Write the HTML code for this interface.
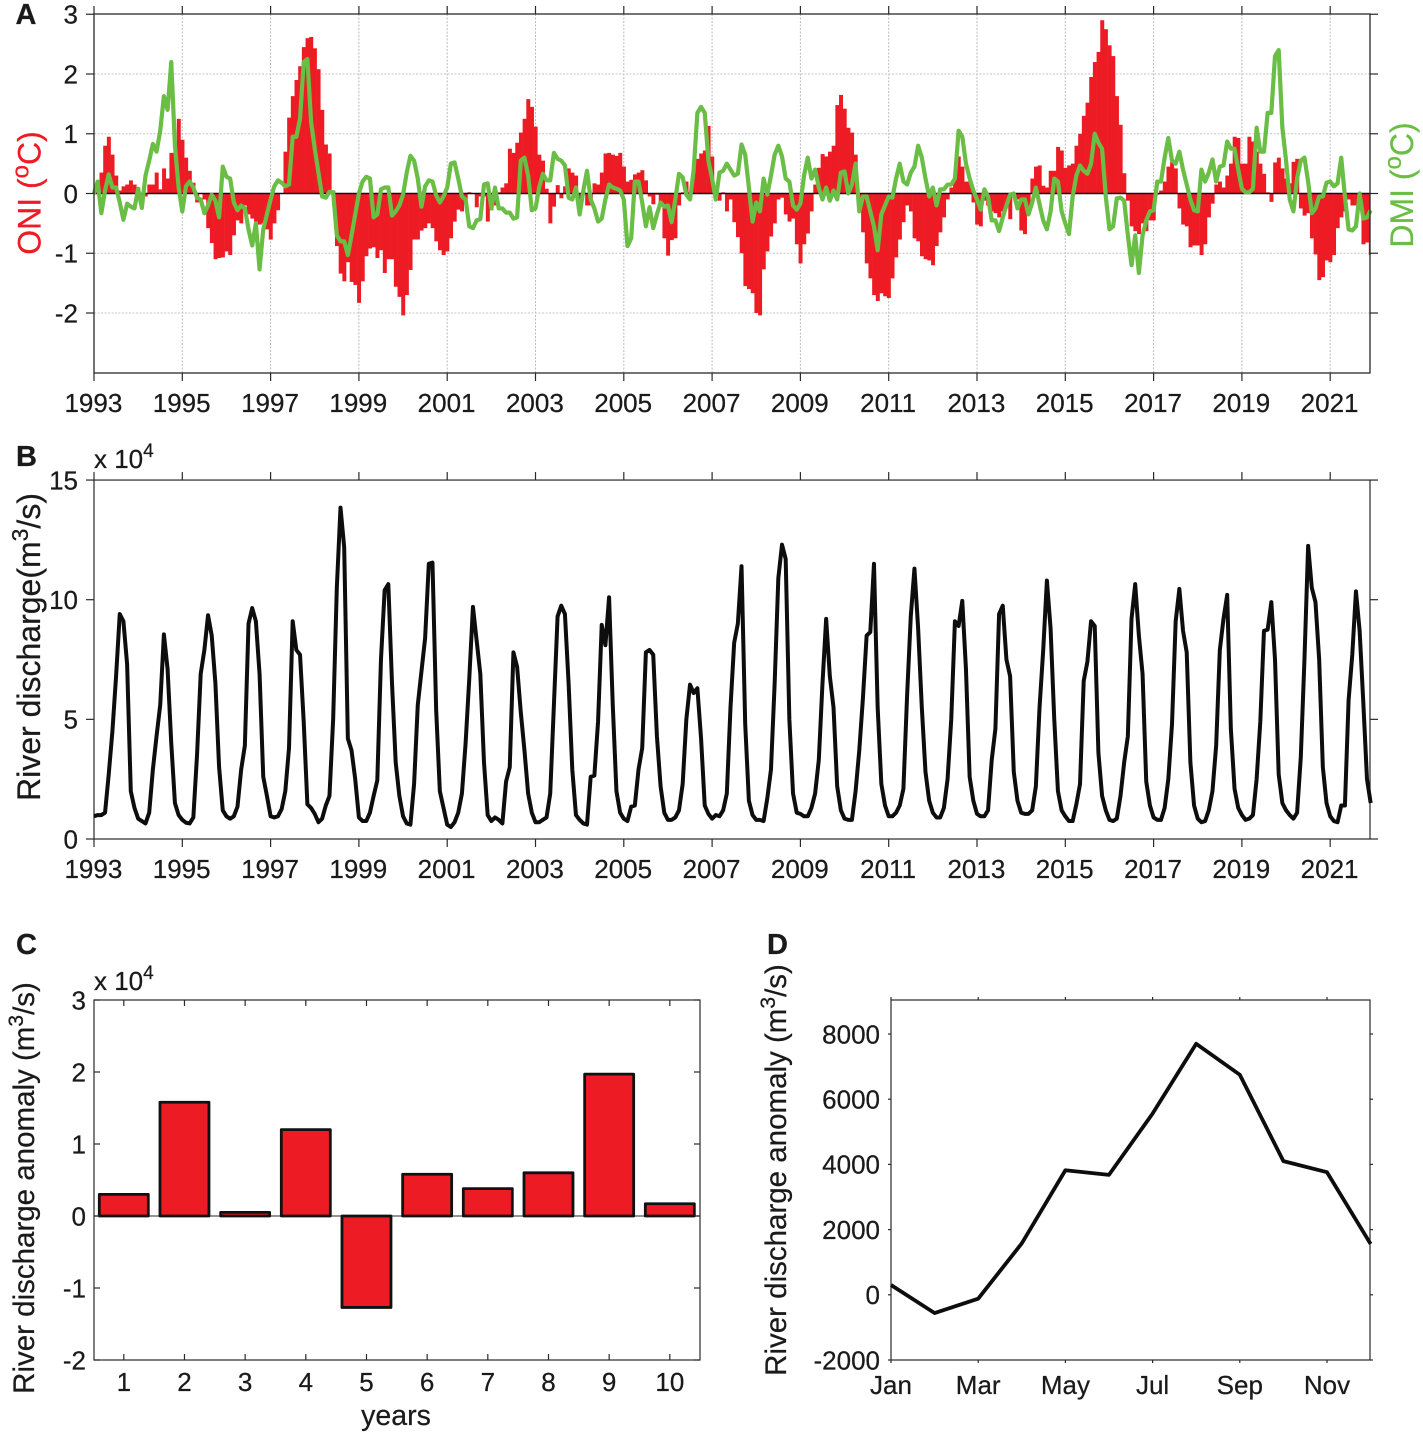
<!DOCTYPE html>
<html lang="en">
<head>
<meta charset="utf-8">
<title>ONI, DMI and river discharge</title>
<style>
html,body{margin:0;padding:0;background:#fff;}
svg{display:block;}
text{font-family:"Liberation Sans",Arial,sans-serif;fill:#1a1a1a;stroke:#1a1a1a;stroke-width:.25px;}
</style>
</head>
<body>
<svg id="figure" xmlns="http://www.w3.org/2000/svg" width="1423" height="1437" viewBox="0 0 1423 1437">
  <defs>
    <clipPath id="plotClipA"><rect x="94" y="14" width="1276" height="359"/></clipPath>
  </defs>
  <rect x="0" y="0" width="1423" height="1437" fill="#fff"/>
  <g id="panelA"></g>
  <g id="panelB"></g>
  <g id="panelC"></g>
  <g id="panelD"></g>

  <text x="15.5" y="24" font-size="29" font-weight="bold" fill="#111">A</text>
  <text x="16" y="466" font-size="29" font-weight="bold" fill="#111">B</text>
  <text x="16" y="954" font-size="29" font-weight="bold" fill="#111">C</text>
  <text x="767" y="954" font-size="29" font-weight="bold" fill="#111">D</text>

  <text transform="translate(40.5,193) rotate(-90)" text-anchor="middle" font-size="32" style="fill:#ed1c24;stroke:#ed1c24">ONI (<tspan font-size="24" dy="-12">o</tspan><tspan dy="12">C)</tspan></text>
  <text transform="translate(1413,185) rotate(-90)" text-anchor="middle" font-size="32" style="fill:#6abd45;stroke:#6abd45">DMI (<tspan font-size="24" dy="-12">o</tspan><tspan dy="12">C)</tspan></text>
  <text transform="translate(40,647) rotate(-90)" text-anchor="middle" font-size="32">River discharge(m<tspan font-size="23" dy="-12">3</tspan><tspan dy="12">/s)</tspan></text>
  <text transform="translate(34,1188) rotate(-90)" text-anchor="middle" font-size="29.5">River discharge anomaly (m<tspan font-size="21" dy="-11">3</tspan><tspan dy="11">/s)</tspan></text>
  <text transform="translate(786,1170) rotate(-90)" text-anchor="middle" font-size="29.5">River discharge anomaly (m<tspan font-size="21" dy="-11">3</tspan><tspan dy="11">/s)</tspan></text>
  <text x="396" y="1425" text-anchor="middle" font-size="28.5">years</text>

  <text x="94" y="468" font-size="26">x 10<tspan font-size="19" dy="-11">4</tspan></text>
  <text x="94" y="990" font-size="26">x 10<tspan font-size="19" dy="-11">4</tspan></text>
</svg>

<script>
// ---------- Panel A data ----------
const yearTicks = [1993,1995,1997,1999,2001,2003,2005,2007,2009,2011,2013,2015,2017,2019,2021];
const oniTicks = [3,2,1,0,-1,-2];
const oniValues = [
.1,.15,.35,.8,.95,.65,.3,.05,.12,.15,.22,.15,
.1,0,-.05,.15,.15,.35,.07,.42,.25,.68,.68,1.25,
.9,.6,.38,.18,-.15,0,-.1,-.58,-.83,-1.1,-1.08,-1.07,
-.97,-1.03,-.7,-.45,-.5,-.2,-.35,-.42,-.47,-.52,-.5,-.6,
-.77,-.5,-.28,0,.7,1.27,1.63,1.9,2.13,2.45,2.6,2.62,
2.43,2.08,1.4,.82,.67,.05,-.88,-1.34,-1.47,-1.15,-1.48,-1.53,
-1.83,-1.47,-1.05,-.92,-.9,-1.08,-.95,-1.33,-1.1,-1.1,-1.56,-1.73,
-2.04,-1.7,-1.28,-.77,-.77,-.62,-.58,-.5,-.58,-.8,-.95,-1.03,
-.97,-.75,-.47,-.27,-.3,-.1,.02,0,-.23,-.05,-.05,-.47,
-.28,-.2,.02,.1,.17,.75,.68,.85,1.02,1.25,1.58,1.45,
1.12,.65,.55,.08,-.5,-.22,.14,-.08,.12,.42,.35,.3,
-.1,.05,-.2,-.2,.17,.15,.35,.67,.68,.65,.63,.68,
.45,.2,.23,.32,.35,.39,.22,-.05,-.18,-.02,-.15,-.75,
-1.04,-.78,-.75,-.2,.02,.2,.02,.35,.58,.67,.72,1.13,
.62,-.1,-.12,.02,-.3,-.1,-.48,-.73,-1,-1.55,-1.6,-1.67,
-2,-2.04,-1.27,-.97,-.72,-.5,-.1,-.07,-.35,-.47,-.42,-.85,
-1.17,-.85,-.67,-.3,.15,.43,.66,.62,.7,.8,1.48,1.65,
1.42,1.1,1.02,.65,-.1,-.65,-1.17,-1.42,-1.7,-1.8,-1.67,-1.72,
-1.75,-1.42,-1.07,-.77,-.48,-.2,-.3,-.75,-.8,-1.05,-1.1,-1.12,
-1.2,-.88,-.65,-.4,-.1,.1,.28,.62,.45,.2,.2,-.15,
-.52,-.55,-.12,-.2,-.3,-.33,-.4,-.3,-.2,-.43,-.05,-.1,
-.62,-.68,-.25,.25,.45,.47,.13,.1,.38,.38,.78,.72,
.43,.47,.5,.8,1,1.3,1.52,1.95,2.2,2.37,2.9,2.75,
2.48,2.3,1.63,1.15,.34,-.12,-.55,-.63,-.68,-.5,-.63,-.45,
-.45,-.02,.05,.2,.45,.53,.42,-.25,-.52,-.55,-.9,-.87,
-.87,-1.03,-.85,-.4,-.17,.15,.2,.1,.3,.5,.95,.93,
.5,.5,.95,.87,.7,.5,.33,.02,-.14,.52,.6,.42,
.25,.17,.53,.58,-.25,-.37,-.33,-.75,-1.02,-1.45,-1.4,-1.12,
-1.15,-1.03,-.58,-.4,-.3,-.1,-.2,-.2,-.05,-.85,-.82,-1.03
];
const dmiValues = [
0,.2,-.33,.05,.32,.1,.1,-.15,-.44,-.17,-.22,-.25,
.08,-.24,.3,.55,.83,.7,1.05,1.63,1.4,2.2,.8,.1,
-.3,.12,.2,.1,-.07,-.1,-.33,-.2,-.02,-.12,-.4,.45,
.28,.25,-.15,-.28,-.2,-.25,-.6,-.87,-.5,-1.27,-.6,-.35,
-.1,.12,.22,.18,.12,.15,.95,.95,1.25,2.2,2.25,1.2,
.75,.35,-.05,-.07,.03,.02,-.7,-.8,-.8,-1.03,-.7,-.35,
0,.2,.28,.25,-.4,-.35,.07,.1,.1,-.37,-.3,-.2,
-.02,.35,.63,.55,.25,-.22,.12,.22,.2,-.03,-.15,-.05,
.1,.5,.52,.25,-.05,-.1,-.55,-.58,-.45,-.43,.15,.17,
-.25,.1,-.25,-.25,-.32,-.32,-.42,-.4,.55,.6,.3,-.28,
-.25,.1,.33,.22,.22,.68,.58,.55,.47,-.07,-.1,.1,
-.35,.05,.38,-.1,-.25,-.47,-.42,-.1,.15,.1,.08,.05,
-.1,-.88,-.75,.2,.2,-.15,-.55,-.23,-.58,-.35,-.15,-.22,
-.2,-.48,-.1,.33,.27,-.02,-.1,.4,1.35,1.45,1.35,.55,
.25,-.1,.35,.38,.5,.4,.3,.33,.82,.65,.1,-.47,
-.15,-.3,.25,-.02,.3,.65,.8,.62,.25,.2,-.2,-.27,
-.17,.3,.6,.25,.4,.1,-.1,.1,-.12,.05,-.1,.35,
.37,0,.15,.5,-.3,-.05,-.05,-.3,-.55,-.95,-.35,-.2,
-.05,-.07,.25,.5,.2,.15,.35,.45,.8,.6,.25,-.05,
.1,-.2,.07,.07,.15,.15,.25,1.05,.95,.5,.25,.05,
-.1,-.27,.07,-.05,-.45,-.45,-.63,-.4,-.2,-.02,0,-.25,
-.1,-.1,-.35,-.15,.1,-.18,-.45,-.6,-.3,.25,.2,-.3,
-.5,-.68,-.05,.3,.47,.38,.33,.5,1,.85,.75,-.05,
-.6,-.55,-.08,-.07,-.12,-.7,-1.2,-.7,-1.33,-.7,-.45,-.3,
-.28,.2,.2,.6,.93,.55,.5,.7,.4,.15,-.1,-.28,
-.3,.4,.2,.35,.57,.2,.45,.47,.87,.75,.75,.4,
.08,.02,.02,.08,1.1,.7,.7,1.35,1.35,2.3,2.4,1.1,
.55,-.1,-.3,.25,.55,.6,.2,-.33,-.25,-.05,-.05,.18,
.2,.12,.17,.6,-.05,-.6,-.62,-.55,0,-.42,-.4,-.28
];
// ---------- Panel B data (x 10^4 m3/s) ----------
const dischargeTicks = [15,10,5,0];
const dischargeValues = [
.95,1,1,1.1,2.7,4.5,6.8,9.4,9.1,7.3,2,1.3,
.85,.75,.65,1.1,2.9,4.3,5.6,8.55,7.1,4,1.5,1,
.8,.68,.65,.9,3.5,6.9,7.9,9.35,8.5,6.5,3,1.2,
.95,.85,.95,1.35,2.9,3.9,9,9.65,9.1,6.9,2.6,1.8,
.95,.9,.95,1.25,2,3.8,9.1,7.9,7.7,4.9,1.45,1.3,
1.05,.7,.85,1.4,1.8,5,10.5,13.85,12.2,4.2,3.7,2.5,
.9,.75,.75,1.1,1.8,2.45,7.5,10.4,10.65,6.5,3.2,1.8,
.95,.65,.6,2.3,5.6,7,8.4,11.5,11.55,5.4,2,1.3,
.6,.5,.7,1.1,1.9,4,6.7,9.7,8.3,6.9,3.2,1,
.75,.9,.8,.65,2.4,3,7.8,7.2,5.3,3.7,1.9,1.1,
.7,.7,.8,.9,1.9,5.6,9.3,9.75,9.4,6.5,2.9,1,
.8,.65,.6,2.6,2.65,4.9,8.95,8.1,10.1,5.6,2,1.1,
.85,.75,1.35,1.4,2.9,3.8,7.8,7.9,7.7,4.3,2.2,1.1,
.8,.8,.9,1.2,2.3,5,6.45,6.1,6.3,4.2,1.4,1.05,
.85,1,.95,1.2,1.9,5.5,8.2,9,11.4,4.8,1.6,1,
.8,.8,.75,1.7,2.9,6.5,10.9,12.3,11.7,5,1.9,1.1,
1.05,.95,.95,1.3,1.9,3.3,6.5,9.2,6.8,5.5,2.2,1.2,
.85,.8,.8,2,3.7,5.9,8.5,8.65,11.5,5.5,2.3,1.4,
.95,.95,1.1,1.4,2.1,6,9.3,11.3,8.8,5.5,2.8,1.6,
1.1,.9,.9,1.3,2.5,5,9.1,8.9,9.95,7.1,2.6,1.6,
1.05,.95,.95,1.2,3.3,4.6,9.4,9.75,7.5,6.8,2.8,1.6,
1.1,1.05,1.05,1.2,2.2,5.5,7.9,10.8,8.8,5,2,1.2,
.95,.75,.75,1.45,2.3,6.6,7.4,9.1,8.9,3.6,1.8,1.2,
.8,.75,.85,1.8,3.2,4.3,9.2,10.65,8.5,6.9,2.4,1.4,
.9,.8,.8,1.3,2.5,4.8,9.1,10.45,8.7,7.8,3.2,1.4,
.85,.7,.75,1.2,2,3.9,7.9,9.2,10.2,4.6,2.1,1.3,
1,.8,.85,1,2.5,4.9,8.7,8.75,9.9,7.5,2.7,1.5,
1.2,1,.85,1.1,3.4,7.5,12.25,10.5,9.9,7.5,3,1.5,
.95,.75,.7,1.4,1.4,5.8,7.7,10.35,8.7,5.7,2.5,1.5
];
// ---------- Panel C data (x 10^4 m3/s) ----------
const yearIndexTicks = ['1','2','3','4','5','6','7','8','9','10'];
const annualAnomalyTicks = [3,2,1,0,-1,-2];
const annualAnomalyValues = [0.3,1.58,0.05,1.2,-1.27,0.58,0.38,0.6,1.97,0.17];
// ---------- Panel D data (m3/s) ----------
const monthLabels = ['Jan','Mar','May','Jul','Sep','Nov'];
const monthlyAnomalyTicks = [8000,6000,4000,2000,0,-2000];
const monthlyAnomalyValues = [300,-560,-120,1580,3820,3680,5560,7700,6750,4100,3760,1560];

// ---------- Helpers ----------
const NS = 'http://www.w3.org/2000/svg';
function svgEl(tag, props, parent) {
  const el = document.createElementNS(NS, tag);
  for (const key in props) el.setAttribute(key, props[key]);
  parent.appendChild(el);
  return el;
}
function linePath(values, xf, yf) {
  return values.map((v, i) => (i ? 'L' : 'M') + xf(i).toFixed(2) + ' ' + yf(v).toFixed(2)).join(' ');
}

// ---------- Axis functions ----------
const LEFT = 94, RIGHT = 1370, PX_PER_YEAR = 44.15;
const xYear = y => LEFT + (y - 1993) * PX_PER_YEAR;
const xMonthIndex = i => LEFT + (i / 12) * PX_PER_YEAR;
const yOni = v => 193.5 - v * 59.75;
const yDischarge = v => 839 - v * 23.93;
const xCat = i => 123.8 + i * 60.67;
const yAnnual = v => 1216 - v * 72;
const xMonth = i => 891 + i * 43.6;
const yMonthly = v => 1294.8 - v * 0.0326;

const AXIS = '#2a2a2a';

// ---------- Panel A ----------
const panelA = document.getElementById('panelA');
yearTicks.forEach(y => {
  const grid = svgEl('line', {x1: xYear(y), x2: xYear(y), y1: 14, y2: 373, stroke: '#bbb', 'stroke-width': 1, 'stroke-dasharray': '2 1.5'}, panelA);
  
  
});
oniTicks.forEach(v => {
  if (v === 3) return;
  const grid = svgEl('line', {x1: LEFT, x2: RIGHT, y1: yOni(v), y2: yOni(v), stroke: '#c4c4c4', 'stroke-width': 1, 'stroke-dasharray': '2 1.5'}, panelA);
  
  
});
const oniBars = svgEl('g', {'clip-path': 'url(#plotClipA)'}, panelA);


oniValues.forEach((v, i) => {
  const top = Math.min(yOni(v), yOni(0));
  const bar = svgEl('rect', {x: xMonthIndex(i) - 1.84, y: top, width: 3.98, height: Math.abs(yOni(v) - yOni(0)), fill: '#ed1c24'}, oniBars);
  
  
});
const zeroA = svgEl('line', {x1: LEFT, x2: RIGHT, y1: yOni(0), y2: yOni(0), stroke: '#111', 'stroke-width': 1.4}, panelA);


const dmiLine = svgEl('path', {d: linePath(dmiValues, xMonthIndex, yOni), fill: 'none', stroke: '#6abd45', 'stroke-width': 4.2, 'stroke-linejoin': 'round'}, panelA);


const frameA = svgEl('rect', {x: LEFT, y: 14, width: RIGHT - LEFT, height: 359, fill: 'none', stroke: AXIS, 'stroke-width': 1.3}, panelA);


yearTicks.forEach(y => {
  const t1 = svgEl('line', {x1: xYear(y), x2: xYear(y), y1: 6, y2: 14, stroke: AXIS, 'stroke-width': 1.2}, panelA);
  
  
  const t2 = svgEl('line', {x1: xYear(y), x2: xYear(y), y1: 373, y2: 381, stroke: AXIS, 'stroke-width': 1.2}, panelA);
  
  
  const lab = svgEl('text', {x: xYear(y) - 0.6, y: 412, 'text-anchor': 'middle', 'font-size': 26}, panelA);
  lab.textContent = y;
  
  
});
oniTicks.forEach(v => {
  const t1 = svgEl('line', {x1: 86, x2: LEFT, y1: yOni(v), y2: yOni(v), stroke: AXIS, 'stroke-width': 1.2}, panelA);
  
  
  const t2 = svgEl('line', {x1: RIGHT, x2: 1378, y1: yOni(v), y2: yOni(v), stroke: AXIS, 'stroke-width': 1.2}, panelA);
  
  
  const lab = svgEl('text', {x: 78, y: yOni(v) + 9.3, 'text-anchor': 'end', 'font-size': 26}, panelA);
  lab.textContent = v;
  
  
});

// ---------- Panel B ----------
const panelB = document.getElementById('panelB');
const frameB = svgEl('rect', {x: LEFT, y: yDischarge(15), width: RIGHT - LEFT, height: yDischarge(0) - yDischarge(15), fill: 'none', stroke: AXIS, 'stroke-width': 1.2}, panelB);


const dischargeLine = svgEl('path', {d: linePath(dischargeValues, xMonthIndex, yDischarge), fill: 'none', stroke: '#0d0d0d', 'stroke-width': 4, 'stroke-linejoin': 'round'}, panelB);


yearTicks.forEach(y => {
  const t1 = svgEl('line', {x1: xYear(y), x2: xYear(y), y1: yDischarge(15) - 8, y2: yDischarge(15), stroke: AXIS, 'stroke-width': 1.2}, panelB);
  
  
  const t2 = svgEl('line', {x1: xYear(y), x2: xYear(y), y1: yDischarge(0), y2: yDischarge(0) + 8, stroke: AXIS, 'stroke-width': 1.2}, panelB);
  
  
  const lab = svgEl('text', {x: xYear(y) - 0.6, y: 878, 'text-anchor': 'middle', 'font-size': 26}, panelB);
  lab.textContent = y;
  
  
});
dischargeTicks.forEach(v => {
  const t1 = svgEl('line', {x1: 86, x2: LEFT, y1: yDischarge(v), y2: yDischarge(v), stroke: AXIS, 'stroke-width': 1.2}, panelB);
  
  
  const t2 = svgEl('line', {x1: RIGHT, x2: 1378, y1: yDischarge(v), y2: yDischarge(v), stroke: AXIS, 'stroke-width': 1.2}, panelB);
  
  
  const lab = svgEl('text', {x: 78, y: yDischarge(v) + 9.3, 'text-anchor': 'end', 'font-size': 26}, panelB);
  lab.textContent = v;
  
  
});

// ---------- Panel C ----------
const panelC = document.getElementById('panelC');
const zeroC = svgEl('line', {x1: LEFT, x2: 700, y1: yAnnual(0), y2: yAnnual(0), stroke: '#555', 'stroke-width': 1.2}, panelC);


annualAnomalyValues.forEach((v, i) => {
  const top = Math.min(yAnnual(v), yAnnual(0));
  const bar = svgEl('rect', {x: xCat(i) - 24.5, y: top, width: 49, height: Math.abs(yAnnual(v) - yAnnual(0)), fill: '#ed1c24', stroke: '#111', 'stroke-width': 2.8, 'stroke-linejoin': 'round'}, panelC);
  
  
});
const frameC = svgEl('rect', {x: LEFT, y: 1000, width: 606, height: 360, fill: 'none', stroke: AXIS, 'stroke-width': 1.2}, panelC);


yearIndexTicks.forEach((label, i) => {
  const t1 = svgEl('line', {x1: xCat(i), x2: xCat(i), y1: 1000, y2: 1006, stroke: AXIS, 'stroke-width': 1.2}, panelC);
  
  
  const t2 = svgEl('line', {x1: xCat(i), x2: xCat(i), y1: 1354, y2: 1360, stroke: AXIS, 'stroke-width': 1.2}, panelC);
  
  
  const lab = svgEl('text', {x: xCat(i), y: 1391, 'text-anchor': 'middle', 'font-size': 26}, panelC);
  lab.textContent = label;
  
  
});
annualAnomalyTicks.forEach(v => {
  const t1 = svgEl('line', {x1: LEFT, x2: LEFT + 6, y1: yAnnual(v), y2: yAnnual(v), stroke: AXIS, 'stroke-width': 1.2}, panelC);
  
  
  const t2 = svgEl('line', {x1: 694, x2: 700, y1: yAnnual(v), y2: yAnnual(v), stroke: AXIS, 'stroke-width': 1.2}, panelC);
  
  
  const lab = svgEl('text', {x: 86, y: yAnnual(v) + 9.3, 'text-anchor': 'end', 'font-size': 26}, panelC);
  lab.textContent = v;
  
  
});

// ---------- Panel D ----------
const panelD = document.getElementById('panelD');
const frameD = svgEl('rect', {x: 891, y: 1000, width: 479, height: 360, fill: 'none', stroke: AXIS, 'stroke-width': 1.2}, panelD);


const monthlyLine = svgEl('path', {d: linePath(monthlyAnomalyValues, xMonth, yMonthly), fill: 'none', stroke: '#0d0d0d', 'stroke-width': 3.8, 'stroke-linejoin': 'round'}, panelD);


monthLabels.forEach((label, i) => {
  const x = xMonth(i * 2);
  const t1 = svgEl('line', {x1: x, x2: x, y1: 997, y2: 1000, stroke: AXIS, 'stroke-width': 1.2}, panelD);
  
  
  const t2 = svgEl('line', {x1: x, x2: x, y1: 1360, y2: 1363, stroke: AXIS, 'stroke-width': 1.2}, panelD);
  
  
  const lab = svgEl('text', {x: x, y: 1394, 'text-anchor': 'middle', 'font-size': 26}, panelD);
  lab.textContent = label;
  
  
});
monthlyAnomalyTicks.forEach(v => {
  const t1 = svgEl('line', {x1: 888, x2: 891, y1: yMonthly(v), y2: yMonthly(v), stroke: AXIS, 'stroke-width': 1.2}, panelD);
  
  
  const t2 = svgEl('line', {x1: 1370, x2: 1373, y1: yMonthly(v), y2: yMonthly(v), stroke: AXIS, 'stroke-width': 1.2}, panelD);
  
  
  const lab = svgEl('text', {x: 880, y: yMonthly(v) + 9.3, 'text-anchor': 'end', 'font-size': 26}, panelD);
  lab.textContent = v;
  
  
});
</script>
</body>
</html>
